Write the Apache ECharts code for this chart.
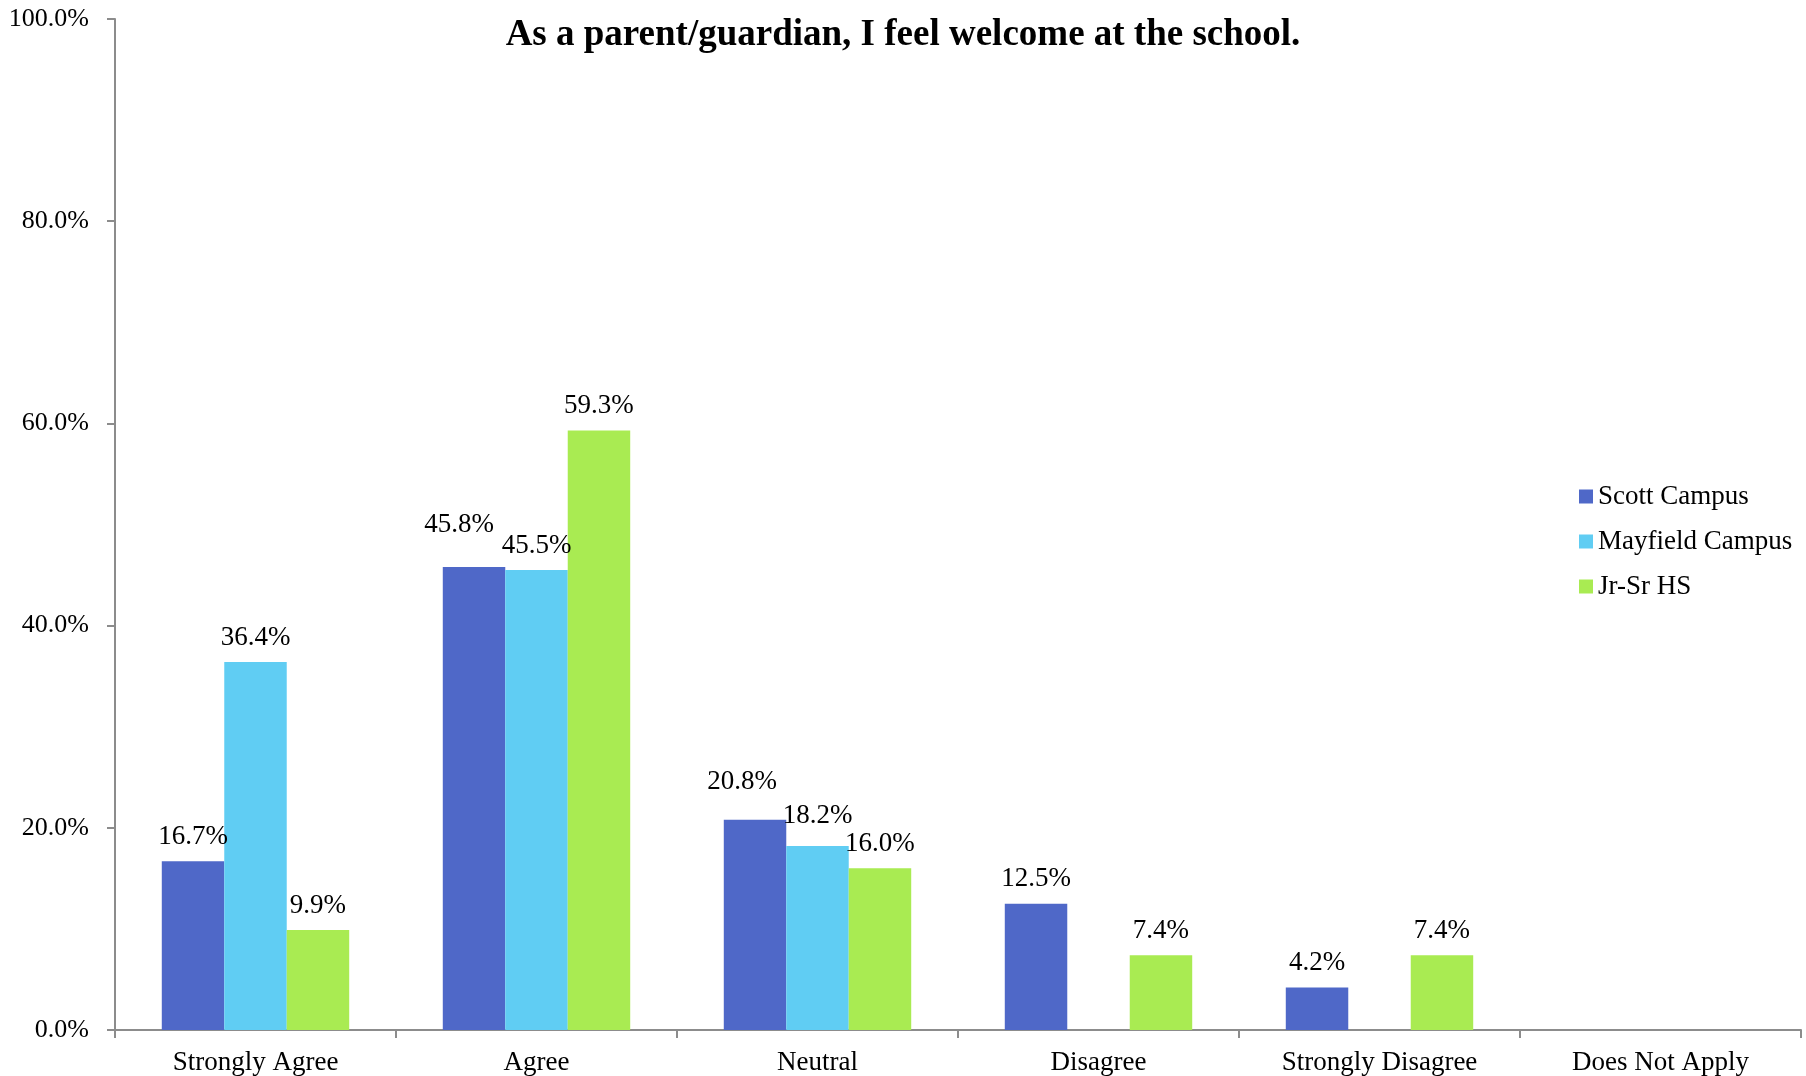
<!DOCTYPE html>
<html><head><meta charset="utf-8">
<script src="https://cdn.jsdelivr.net/npm/echarts@6/dist/echarts.min.js"></script>
<style>html,body{margin:0;padding:0;background:#fff}#c{width:1806px;height:1076px}</style>
</head><body><div id="c"></div>
<script>
var categories = ['Strongly Agree','Agree','Neutral','Disagree','Strongly Disagree','Does Not Apply'];
var scottCampus = [16.7, 45.8, 20.8, 12.5, 4.2, null];
var mayfieldCampus = [36.4, 45.5, 18.2, null, null, null];
var jrSrHS = [9.9, 59.3, 16.0, 7.4, 7.4, null];
var yTicks = [0, 20, 40, 60, 80, 100];

var FONT = '"Liberation Serif","Times New Roman",serif';
// label nudges (Excel overlap avoidance), keyed by series index and category index
var labelNudge = {'0-1':[-15,-18], '0-2':[-13,-13], '1-2':[0,-6]};

function buildData(arr, si){
  return arr.map(function(v,i){
    var n = labelNudge[si+'-'+i];
    var d = {value:v};
    if(n){ d.label = {offset:n}; }
    return d;
  });
}
var colors = ['#4F68C8','#60CDF3','#A9EB52'];
var names = ['Scott Campus','Mayfield Campus','Jr-Sr HS'];
var all = [scottCampus, mayfieldCampus, jrSrHS];

var chart = echarts.init(document.getElementById('c'));
chart.setOption({
  animation:false,
  backgroundColor:'#fff',
  title:{text:'As a parent/guardian, I feel welcome at the school.', left:'center', top:12,
    textStyle:{fontFamily:FONT, fontSize:37, fontWeight:'bold', color:'#000'}},
  legend:{orient:'vertical', left:1574, top:478, itemWidth:14, itemHeight:14, itemGap:18, icon:'rect',
    textStyle:{fontFamily:FONT, fontSize:27, color:'#000'},
    data:names},
  grid:{left:115, right:5, top:19, bottom:46, containLabel:false},
  xAxis:{type:'category', data:categories,
    axisLine:{lineStyle:{color:'#8c8c8c', width:2}},
    axisTick:{show:true, length:8, lineStyle:{color:'#8c8c8c', width:2}},
    axisLabel:{fontFamily:FONT, fontSize:27, color:'#000', margin:19, interval:0}},
  yAxis:{type:'value', min:0, max:100, interval:20,
    axisLine:{show:true, lineStyle:{color:'#8c8c8c', width:2}},
    axisTick:{show:true, length:8, lineStyle:{color:'#8c8c8c', width:2}},
    splitLine:{show:false},
    axisLabel:{fontFamily:FONT, fontSize:26, color:'#000', margin:26,
      formatter:function(v){ return yTicks.indexOf(v)>=0 ? v.toFixed(1)+'%' : ''; }}},
  series: all.map(function(arr, si){
    return {name:names[si], type:'bar', data:buildData(arr, si), barGap:'0%', barCategoryGap:'33.3%',
      itemStyle:{color:colors[si]},
      label:{show:true, position:'top', distance:11, fontFamily:FONT, fontSize:27, color:'#000',
        formatter:function(p){ return p.value==null ? '' : p.value.toFixed(1)+'%'; }}};
  })
});
</script></body></html>
